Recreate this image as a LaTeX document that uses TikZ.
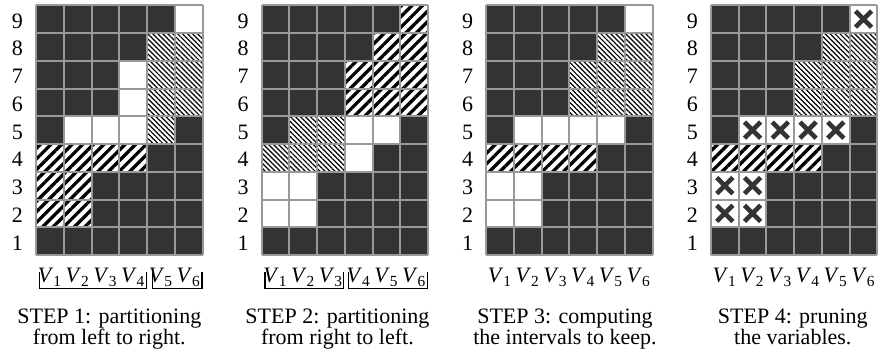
\documentclass[tikz,border=0pt]{standalone}
\usepackage{fontspec}
\setmainfont{Liberation Serif}
\usetikzlibrary{patterns.meta}
\definecolor{cellfill}{HTML}{333333}
\definecolor{gridgray}{HTML}{999999}
\tikzset{
  darkcell/.style={fill=cellfill},
  whitecell/.style={fill=white},
  thickcell/.style={fill=white, postaction={pattern={Lines[angle=45, distance=3.4pt, line width=1.5pt]}, pattern color=black}},
  finecell/.style={fill=white, postaction={pattern={Lines[angle=-45, distance=1.6pt, line width=0.55pt]}, pattern color=black}},
  gridline/.style={draw=gridgray, line width=0.9pt},
  prunemark/.style={draw=cellfill, line width=2.1pt},
  rownum/.style={anchor=base},
  varlabel/.style={anchor=base},
  caption/.style={anchor=base},
  bracket/.style={draw, line width=0.5pt}
}

\begin{document}
\begin{tikzpicture}[x=12.61pt, y=12.61pt]
    \useasboundingbox (-1.30,-3.57) rectangle (30.34,9.19);

    % Тёмный фон всех четырёх сеток
    \foreach \p/\ox in {1/0, 2/8.13, 3/16.22, 4/24.32}
      \fill[darkcell] (\ox,0) rectangle ++(6,9);

    % Шаг 1: слева направо
    \begin{scope}[shift={(0,0)}]
      \foreach \c/\r in {6/9, 4/7, 4/6, 2/5, 3/5, 4/5}
        \fill[whitecell] (\c-1,\r-1) rectangle ++(1,1);
      \foreach \c/\r in {5/8, 6/8, 5/7, 6/7, 5/6, 6/6, 5/5}
        \fill[finecell] (\c-1,\r-1) rectangle ++(1,1);
      \foreach \c/\r in {1/4, 2/4, 3/4, 4/4, 1/3, 2/3, 1/2, 2/2}
        \fill[thickcell] (\c-1,\r-1) rectangle ++(1,1);
      % Скобки групп переменных
      \draw[bracket] (0.12,-0.6) |- (3.97,-1.2) -- (3.97,-0.6);
      \draw[bracket] (4.18,-0.6) |- (5.98,-1.2) -- (5.98,-0.6);
    \end{scope}

    % Шаг 2: справа налево
    \begin{scope}[shift={(8.13,0)}]
      \foreach \c/\r in {4/5, 5/5, 4/4, 1/3, 2/3, 1/2, 2/2}
        \fill[whitecell] (\c-1,\r-1) rectangle ++(1,1);
      \foreach \c/\r in {2/5, 3/5, 1/4, 2/4, 3/4}
        \fill[finecell] (\c-1,\r-1) rectangle ++(1,1);
      \foreach \c/\r in {6/9, 5/8, 6/8, 4/7, 5/7, 6/7, 4/6, 5/6, 6/6}
        \fill[thickcell] (\c-1,\r-1) rectangle ++(1,1);
      \draw[bracket] (0.12,-0.6) |- (2.96,-1.2) -- (2.96,-0.6);
      \draw[bracket] (3.14,-0.6) |- (5.97,-1.2) -- (5.97,-0.6);
    \end{scope}

    % Шаги 3 и 4: одинаковая раскраска
    \foreach \ox in {16.22, 24.32} {
      \begin{scope}[shift={(\ox,0)}]
        \foreach \c/\r in {6/9, 2/5, 3/5, 4/5, 5/5, 1/3, 2/3, 1/2, 2/2}
          \fill[whitecell] (\c-1,\r-1) rectangle ++(1,1);
        \foreach \c/\r in {5/8, 6/8, 4/7, 5/7, 6/7, 4/6, 5/6, 6/6}
          \fill[finecell] (\c-1,\r-1) rectangle ++(1,1);
        \foreach \c/\r in {1/4, 2/4, 3/4, 4/4}
          \fill[thickcell] (\c-1,\r-1) rectangle ++(1,1);
      \end{scope}
    }

    % Крестики на шаге 4
    \begin{scope}[shift={(24.32,0)}]
      \foreach \c/\r in {6/9, 2/5, 3/5, 4/5, 5/5, 1/3, 2/3, 1/2, 2/2}
        \draw[prunemark] (\c-0.79,\r-0.79) -- ++(0.58,0.58)
                         (\c-0.79,\r-0.21) -- ++(0.58,-0.58);
    \end{scope}

    % Линии сетки, номера строк и переменные
    \foreach \p/\ox in {1/0, 2/8.13, 3/16.22, 4/24.32} {
      \begin{scope}[shift={(\ox,0)}]
        \draw[gridline] (0,0) grid[step=1] (6,9);
        \foreach \r in {1,...,9}
          \node[rownum] (n\p-\r) at (-0.67,\r-0.82) {\r};
        \foreach \c in {1,...,6}
          \node[varlabel] (v\p-\c) at (\c-0.5,-1.0) {\textit{V}\textsubscript{\c}};
      \end{scope}
    }

    % Подписи шагов
    \node[caption] (cap1a) at (2.64,-2.46) {STEP 1: partitioning};
    \node[caption] (cap1b) at (2.64,-3.22) {from left to right.};
    \node[caption] (cap2a) at (10.86,-2.46) {STEP 2: partitioning};
    \node[caption] (cap2b) at (10.86,-3.22) {from right to left.};
    \node[caption] (cap3a) at (19.06,-2.46) {STEP 3: computing};
    \node[caption] (cap3b) at (19.06,-3.22) {the intervals to keep.};
    \node[caption] (cap4a) at (27.27,-2.46) {STEP 4: pruning};
    \node[caption] (cap4b) at (27.27,-3.22) {the variables.};
\end{tikzpicture}
\end{document}
